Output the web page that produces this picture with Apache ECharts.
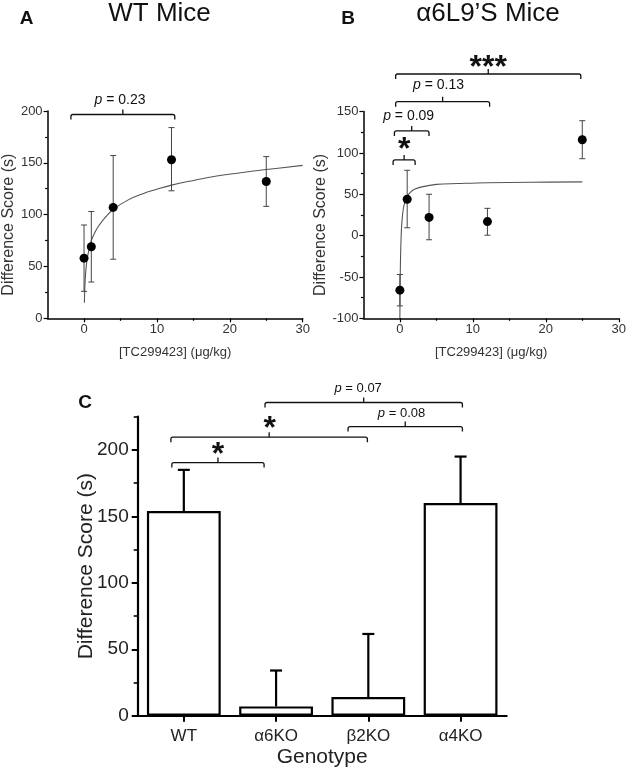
<!DOCTYPE html>
<html><head><meta charset="utf-8">
<script src="https://cdn.jsdelivr.net/npm/echarts@6/dist/echarts.min.js"></script>
<style>html,body{margin:0;padding:0;background:#fff}#c{width:629px;height:770px}</style>
</head><body><div id="c"></div>
<script>
// ---- Panel A: WT mice ----
const dosesA = [0, 1, 4, 12, 25];
const meansA = [58, 69, 107, 153, 132];
const lowA = [26, 35, 57, 123, 108];
const highA = [90, 103, 157, 184, 156];
const fitDoseA = [0.05, 0.1, 0.2, 0.4, 0.7, 1, 1.5, 2, 3, 4, 6, 8, 10, 12, 15, 18, 21, 25, 30];
const fitScoreA = [15, 28, 42, 56, 67, 75, 83, 89, 98, 105, 114, 120, 124.5, 128.5, 133, 137, 140, 143.5, 147.5];

// ---- Panel B: a6L9'S mice ----
const dosesB = [0, 1, 4, 12, 25];
const meansB = [-66, 44, 22, 17, 116];
const lowB = [-85, 9.5, -5, 0.5, 93];
const highB = [-47, 79, 50, 33, 139];
const fitDoseB = [0, 0.05, 0.1, 0.2, 0.3, 0.5, 0.8, 1, 1.5, 2, 3, 5, 8, 12, 18, 25];
const fitScoreB = [-100, -50, -23, 5, 19, 34, 44, 48, 53, 56, 59, 62, 63, 64, 64.5, 65];

// ---- Panel C: genotypes ----
const genotypes = ['WT', 'α6KO', 'β2KO', 'α4KO'];
const meansC = [154, 7, 14, 160];
const highC = [185, 34, 61.5, 195];

// tick values
const xTicksAB = [0, 10, 20, 30];
const xMinorAB = [5, 15, 25];
const yTicksC = [0, 50, 100, 150, 200];
const yMinorC = [25, 75, 125, 175, 225];

// significance brackets: [from, to, level, labelX, labelY]
const sigA = [[-1.8, 12.45, 196.6, 4.93, 210.6]];
const sigTextA = ['p = 0.23'];
const sigB = [[-0.93, 2.09, 91.5, 0.58, 111.7], [-0.75, 3.99, 126.6, 1.2, 144.7], [-0.58, 12.3, 162, 5.3, 182], [-0.58, 24.8, 195.5, 12.1, 211.6]];
const sigTextB = ['*', 'p = 0.09', 'p = 0.13', '***'];
const sigC = [[-0.13, 0.87, 190.5, 0.37, 201.4], [-0.14, 1.99, 209.6, 0.93, 221.4], [0.88, 3.02, 235.7, 1.89, 246.5], [1.78, 3.02, 217.6, 2.36, 227.7]];
const sigTextC = ['*', '*', 'p = 0.07', 'p = 0.08'];

const FONT = '"Liberation Sans", Arial, sans-serif';

function bracketRender(texts, pFont) {
  return function (params, api) {
    const p1 = api.coord([api.value(0), api.value(2)]);
    const p2 = api.coord([api.value(1), api.value(2)]);
    const lp = api.coord([api.value(3), api.value(4)]);
    const xm = (p1[0] + p2[0]) / 2, y = p1[1];
    const d = 5, t = 5, r = 2;
    const path = 'M' + p1[0] + ',' + (y + d) + ' L' + p1[0] + ',' + (y + r) + ' Q' + p1[0] + ',' + y + ' ' + (p1[0] + r) + ',' + y +
      ' L' + (p2[0] - r) + ',' + y + ' Q' + p2[0] + ',' + y + ' ' + p2[0] + ',' + (y + r) + ' L' + p2[0] + ',' + (y + d) +
      ' M' + xm + ',' + y + ' L' + xm + ',' + (y - t);
    const txt = texts[params.dataIndex];
    const isStar = txt.indexOf('*') >= 0;
    const starSize = 32;
    const textEl = isStar ? {
      type: 'text', x: lp[0], y: lp[1] + 0.23 * starSize,
      style: { text: txt, fill: '#111', fontSize: starSize, fontWeight: 'bold', fontFamily: FONT, align: 'center', verticalAlign: 'middle', textAlign: 'center', textVerticalAlign: 'middle' }
    } : {
      type: 'text', x: lp[0], y: lp[1],
      style: {
        text: '{i|p}' + txt.slice(1), fill: '#111', fontSize: pFont, fontFamily: FONT,
        align: 'center', verticalAlign: 'middle', textAlign: 'center', textVerticalAlign: 'middle',
        rich: { i: { fontStyle: 'italic', fontSize: pFont, fontFamily: FONT, fill: '#111' } }
      }
    };
    return {
      type: 'group', children: [
        { type: 'path', shape: { pathData: path }, style: { stroke: '#111', lineWidth: 1.3, fill: null } },
        textEl
      ]
    };
  };
}

function errRender(cap, width, color) {
  return function (params, api) {
    const a = api.coord([api.value(0), api.value(2)]);
    const b = api.coord([api.value(0), api.value(1)]);
    const st = { stroke: color, lineWidth: width };
    return {
      type: 'group', children: [
        { type: 'line', shape: { x1: a[0], y1: a[1], x2: b[0], y2: b[1] }, style: st },
        { type: 'line', shape: { x1: a[0] - cap, y1: a[1], x2: a[0] + cap, y2: a[1] }, style: st },
        { type: 'line', shape: { x1: b[0] - cap, y1: b[1], x2: b[0] + cap, y2: b[1] }, style: st }
      ]
    };
  };
}

function errUpRender(params, api) {
  const base = api.coord([api.value(0), api.value(1)]);
  const top = api.coord([api.value(0), api.value(2)]);
  const st = { stroke: '#000', lineWidth: 2.2 };
  return {
    type: 'group', children: [
      { type: 'line', shape: { x1: base[0], y1: base[1], x2: top[0], y2: top[1] }, style: st },
      { type: 'line', shape: { x1: top[0] - 6, y1: top[1], x2: top[0] + 6, y2: top[1] }, style: st }
    ]
  };
}

const axText = { fontFamily: FONT, color: '#333' };
const lineAB = { show: true, onZero: false, lineStyle: { color: '#000', width: 1.5 } };

function abXAxis(grid) {
  return [{
    gridIndex: grid, type: 'value', min: -5, max: 30, position: 'bottom',
    axisLine: lineAB,
    axisTick: { show: true, customValues: xTicksAB, length: 4, lineStyle: { color: '#000', width: 1.2 } },
    axisLabel: Object.assign({ customValues: xTicksAB, fontSize: 13, margin: 5 }, axText),
    splitLine: { show: false },
    name: '[TC299423] (μg/kg)', nameLocation: 'middle', nameGap: 28,
    nameTextStyle: Object.assign({ fontSize: 13 }, axText)
  }, {
    gridIndex: grid, type: 'value', min: -5, max: 30, position: 'bottom',
    axisLine: { show: false, onZero: false },
    axisTick: { show: true, customValues: xMinorAB, length: 2.5, lineStyle: { color: '#000', width: 1.2 } },
    axisLabel: { show: false }, splitLine: { show: false }
  }];
}

function abYAxis(grid, min, max, gap) {
  return {
    gridIndex: grid, type: 'value', min: min, max: max, interval: 50, position: 'left',
    axisLine: lineAB,
    axisTick: { show: true, length: 4, lineStyle: { color: '#000', width: 1.2 } },
    minorTick: { show: true, splitNumber: 2, length: 2.5, lineStyle: { color: '#000', width: 1.2 } },
    axisLabel: Object.assign({ fontSize: 13, margin: 5 }, axText),
    splitLine: { show: false },
    name: 'Difference Score (s)', nameLocation: 'middle', nameGap: gap,
    nameTextStyle: Object.assign({ fontSize: 16, padding: [0, 20, 0, 0] }, axText)
  };
}

const chart = echarts.init(document.getElementById('c'), null, { renderer: 'canvas' });
chart.setOption({
  animation: false,
  backgroundColor: '#fff',
  textStyle: { fontFamily: FONT },
  grid: [
    { left: 45.3, top: 111, width: 257.4, height: 207.3 },
    { left: 363.4, top: 111.6, width: 263.3, height: 206.7 },
    { left: 137.7, top: 416.7, width: 369, height: 299 }
  ],
  xAxis: [].concat(abXAxis(0), abXAxis(1), [
    {
      gridIndex: 2, type: 'category', data: genotypes, position: 'bottom',
      axisLine: { show: true, onZero: false, lineStyle: { color: '#000', width: 2.2 } },
      axisTick: { show: true, alignWithLabel: true, length: 6, lineStyle: { color: '#000', width: 2 } },
      axisLabel: { fontSize: 17, color: '#222', fontFamily: FONT, margin: 12 },
      splitLine: { show: false },
      name: 'Genotype', nameLocation: 'middle', nameGap: 31,
      nameTextStyle: { fontSize: 21, color: '#222', fontFamily: FONT }
    },
    { gridIndex: 2, type: 'value', min: -0.5, max: 3.5, show: false, position: 'top', axisLine: { onZero: false } }
  ]),
  yAxis: [
    abYAxis(0, 0, 200, 30),
    abYAxis(1, -100, 150, 35),
    {
      gridIndex: 2, type: 'value', min: 0, max: 225, position: 'left',
      axisLine: { show: true, onZero: false, lineStyle: { color: '#000', width: 2.2 } },
      axisTick: { show: true, customValues: yTicksC, length: 6, lineStyle: { color: '#000', width: 2 } },
      axisLabel: { customValues: yTicksC, fontSize: 19, color: '#222', fontFamily: FONT, margin: 9 },
      splitLine: { show: false },
      name: 'Difference Score (s)', nameLocation: 'middle', nameGap: 41, nameMoveOverlap: false,
      nameTextStyle: { fontSize: 21, color: '#222', fontFamily: FONT }
    },
    {
      gridIndex: 2, type: 'value', min: 0, max: 225, position: 'left',
      axisLine: { show: false, onZero: false },
      axisTick: { show: true, customValues: yMinorC, length: 4, lineStyle: { color: '#000', width: 1.6 } },
      axisLabel: { show: false }, splitLine: { show: false }
    }
  ],
  series: [
    // Panel A
    { type: 'line', xAxisIndex: 0, yAxisIndex: 0, data: fitDoseA.map((x, i) => [x, fitScoreA[i]]),
      smooth: 0.4, showSymbol: false, symbol: 'none', lineStyle: { color: '#555', width: 1.1 }, z: 2 },
    { type: 'custom', xAxisIndex: 0, yAxisIndex: 0, data: dosesA.map((x, i) => [x, lowA[i], highA[i]]),
      renderItem: errRender(3, 1, '#444'), z: 3, clip: false },
    { type: 'scatter', xAxisIndex: 0, yAxisIndex: 0, data: dosesA.map((x, i) => [x, meansA[i]]),
      symbolSize: 9, itemStyle: { color: '#000', opacity: 1 }, z: 4 },
    { type: 'custom', xAxisIndex: 0, yAxisIndex: 0, data: sigA, renderItem: bracketRender(sigTextA, 14), clip: false, z: 5 },
    // Panel B
    { type: 'line', xAxisIndex: 2, yAxisIndex: 1, data: fitDoseB.map((x, i) => [x, fitScoreB[i]]),
      smooth: 0.4, showSymbol: false, symbol: 'none', lineStyle: { color: '#555', width: 1.1 }, z: 2 },
    { type: 'custom', xAxisIndex: 2, yAxisIndex: 1, data: dosesB.map((x, i) => [x, lowB[i], highB[i]]),
      renderItem: errRender(3, 1, '#444'), z: 3, clip: false },
    { type: 'scatter', xAxisIndex: 2, yAxisIndex: 1, data: dosesB.map((x, i) => [x, meansB[i]]),
      symbolSize: 9, itemStyle: { color: '#000', opacity: 1 }, z: 4 },
    { type: 'custom', xAxisIndex: 2, yAxisIndex: 1, data: sigB, renderItem: bracketRender(sigTextB, 14), clip: false, z: 5 },
    // Panel C
    { type: 'bar', xAxisIndex: 4, yAxisIndex: 2, data: meansC, barWidth: '80%',
      itemStyle: { color: '#fff', borderColor: '#000', borderWidth: 2.2 }, z: 2 },
    { type: 'custom', xAxisIndex: 4, yAxisIndex: 2, data: genotypes.map((g, i) => [i, meansC[i], highC[i]]),
      renderItem: errUpRender, z: 3, clip: false },
    { type: 'custom', xAxisIndex: 5, yAxisIndex: 2, data: sigC, renderItem: bracketRender(sigTextC, 13), clip: false, z: 5 }
  ],
  graphic: [
    { type: 'text', x: 159.5, y: 13.5, style: { text: 'WT Mice', fontSize: 26, fontFamily: FONT, fill: '#111', align: 'center', verticalAlign: 'middle', textAlign: 'center', textVerticalAlign: 'middle' } },
    { type: 'text', x: 488, y: 13.5, style: { text: 'α6L9’S Mice', fontSize: 26, fontFamily: FONT, fill: '#111', align: 'center', verticalAlign: 'middle', textAlign: 'center', textVerticalAlign: 'middle' } },
    { type: 'text', x: 26.7, y: 18.5, style: { text: 'A', fontSize: 19, fontWeight: 'bold', fontFamily: FONT, fill: '#111', align: 'center', verticalAlign: 'middle', textAlign: 'center', textVerticalAlign: 'middle' } },
    { type: 'text', x: 348, y: 18.5, style: { text: 'B', fontSize: 19, fontWeight: 'bold', fontFamily: FONT, fill: '#111', align: 'center', verticalAlign: 'middle', textAlign: 'center', textVerticalAlign: 'middle' } },
    { type: 'text', x: 85, y: 403, style: { text: 'C', fontSize: 19, fontWeight: 'bold', fontFamily: FONT, fill: '#111', align: 'center', verticalAlign: 'middle', textAlign: 'center', textVerticalAlign: 'middle' } }
  ]
});
</script>
</body></html>
